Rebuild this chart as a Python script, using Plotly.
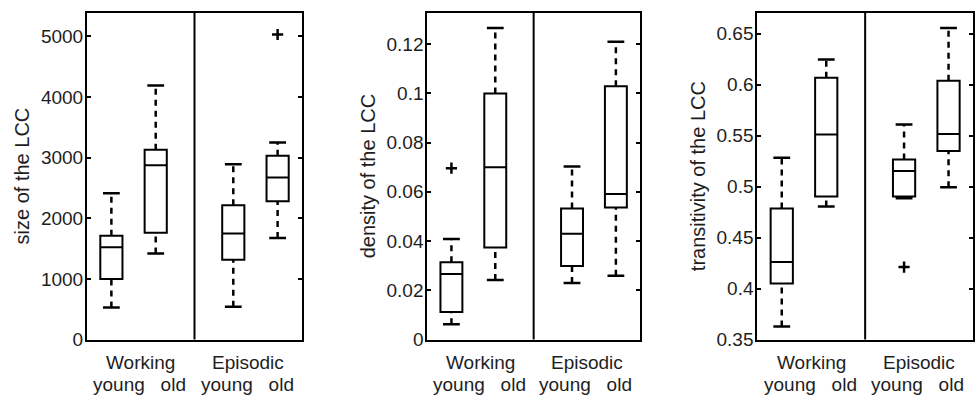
import plotly.graph_objects as go

# ---------------- data ----------------
groups = ["Working young", "Working old", "Episodic young", "Episodic old"]
positions = [1.0, 2.0, 3.75, 4.75]

# panel 1: size of the LCC
size_lower = [530, 1420, 540, 1675]
size_q1 = [1000, 1760, 1317, 2280]
size_median = [1520, 2875, 1750, 2670]
size_q3 = [1713, 3130, 2215, 3030]
size_upper = [2410, 4190, 2890, 3250]
size_outlier_x = [4.75]
size_outlier_y = [5030]

# panel 2: density of the LCC
dens_lower = [0.0062, 0.0242, 0.0230, 0.0259]
dens_q1 = [0.0112, 0.0374, 0.0299, 0.0536]
dens_median = [0.0266, 0.0700, 0.0430, 0.0591]
dens_q3 = [0.0314, 0.1000, 0.0532, 0.1029]
dens_upper = [0.0408, 0.1266, 0.0703, 0.1210]
dens_outlier_x = [1.0]
dens_outlier_y = [0.0696]

# panel 3: transitivity of the LCC
trans_lower = [0.3628, 0.4806, 0.4887, 0.4995]
trans_q1 = [0.4051, 0.4903, 0.4903, 0.5351]
trans_median = [0.4262, 0.5511, 0.5155, 0.5517]
trans_q3 = [0.4787, 0.6068, 0.5268, 0.6039]
trans_upper = [0.5284, 0.6247, 0.5610, 0.6558]
trans_outlier_x = [3.75]
trans_outlier_y = [0.4211]

size_ticks = [0, 1000, 2000, 3000, 4000, 5000]
size_ticktext = ["0", "1000", "2000", "3000", "4000", "5000"]
dens_ticks = [0, 0.02, 0.04, 0.06, 0.08, 0.1, 0.12]
dens_ticktext = ["0", "0.02", "0.04", "0.06", "0.08", "0.1", "0.12"]
trans_ticks = [0.35, 0.4, 0.45, 0.5, 0.55, 0.6, 0.65]
trans_ticktext = ["0.35", "0.4", "0.45", "0.5", "0.55", "0.6", "0.65"]

y_titles = ["size of the LCC", "density of the LCC", "transitivity of the LCC"]
task_labels = ["Working", "Episodic"]
age_label = "young\u00a0\u00a0\u00a0old"

# ---------------- styling ----------------
FONT = "Liberation Sans, Arial, Helvetica, sans-serif"
FS = 20
TFS = 19
XFS = 19
TXT = "#1e1e1e"
W, H = 975, 405
y_dom = [(405 - 349) / H, (405 - 13) / H]
x_doms = [[87 / W, 302 / W], [427.3 / W, 640 / W], [757.3 / W, 973 / W]]
y_ranges = [[0, 5390], [0, 0.1328], [0.35, 0.6708]]

panels = [
    (size_lower, size_q1, size_median, size_q3, size_upper, size_outlier_x, size_outlier_y, size_ticks, size_ticktext),
    (dens_lower, dens_q1, dens_median, dens_q3, dens_upper, dens_outlier_x, dens_outlier_y, dens_ticks, dens_ticktext),
    (trans_lower, trans_q1, trans_median, trans_q3, trans_upper, trans_outlier_x, trans_outlier_y, trans_ticks, trans_ticktext),
]

fig = go.Figure()
layout = dict(
    width=W, height=H, margin=dict(l=0, r=0, t=0, b=0),
    paper_bgcolor="white", plot_bgcolor="white", showlegend=False,
    font=dict(family=FONT, size=FS, color=TXT),
    annotations=[], shapes=[],
)

for i, (lo, q1, med, q3, up, ox, oy, tv, tt) in enumerate(panels):
    n = "" if i == 0 else str(i + 1)
    xa, ya = "x" + n, "y" + n
    # whiskers (dashed)
    for k in range(len(positions)):
        for a, b in ((q3[k], up[k]), (lo[k], q1[k])):
            fig.add_trace(go.Scatter(
                x=[positions[k], positions[k]], y=[a, b], mode="lines",
                line=dict(color="black", width=2.5, dash="6px,5px"),
                xaxis=xa, yaxis=ya, hoverinfo="skip"))
    # whisker caps
    fig.add_trace(go.Scatter(
        x=positions + positions, y=up + lo, mode="markers",
        marker=dict(symbol="line-ew", size=12, line=dict(color="black", width=2.5)),
        xaxis=xa, yaxis=ya, hoverinfo="skip"))
    # boxes
    fig.add_trace(go.Box(
        x=positions, q1=q1, median=med, q3=q3, lowerfence=q1, upperfence=q3,
        width=0.5, whiskerwidth=0, fillcolor="white",
        line=dict(color="black", width=2), boxpoints=False,
        xaxis=xa, yaxis=ya))
    # outliers
    fig.add_trace(go.Scatter(
        x=ox, y=oy, mode="markers",
        marker=dict(symbol="cross-thin", size=8, line=dict(color="black", width=2.5)),
        xaxis=xa, yaxis=ya, hoverinfo="skip"))

    layout["xaxis" + n] = dict(
        domain=x_doms[i], range=[0.45, 5.3], anchor=ya,
        showline=True, mirror=True, linecolor="black", linewidth=2,
        showgrid=False, zeroline=False, showticklabels=False, ticks="")
    layout["yaxis" + n] = dict(
        domain=y_dom, range=y_ranges[i], anchor=xa,
        showline=True, mirror="ticks", linecolor="black", linewidth=2,
        showgrid=False, zeroline=False, ticks="inside", ticklen=4, tickwidth=1.5,
        tickcolor="black", tickvals=tv, ticktext=tt, ticklabelstandoff=-2,
        tickfont=dict(family=FONT, size=TFS, color=TXT),
        title=dict(text=y_titles[i], standoff=6,
                   font=dict(family=FONT, size=FS, color=TXT)))
    # divider between Working and Episodic
    layout["shapes"].append(dict(
        type="line", xref=xa + " domain", yref=ya + " domain",
        x0=0.5, x1=0.5, y0=0, y1=1, line=dict(color="black", width=2)))
    # group labels
    for j, fx in enumerate([0.245, 0.745]):
        layout["annotations"].append(dict(
            text=task_labels[j], xref=xa + " domain", yref="paper",
            x=fx + 0.005, y=(405 - 373) / H, showarrow=False,
            xanchor="center", yanchor="middle", borderpad=0,
            font=dict(family=FONT, size=XFS, color=TXT)))
        layout["annotations"].append(dict(
            text=age_label, xref=xa + " domain", yref="paper",
            x=fx, y=(405 - 395.5) / H, showarrow=False,
            xanchor="center", yanchor="middle", borderpad=0,
            font=dict(family=FONT, size=XFS, color=TXT)))

fig.update_layout(**layout)
fig.write_html(
    "out.html",
    config={"displayModeBar": False},
    post_script="document.body.style.margin='0px';document.body.style.overflow='hidden';",
)
